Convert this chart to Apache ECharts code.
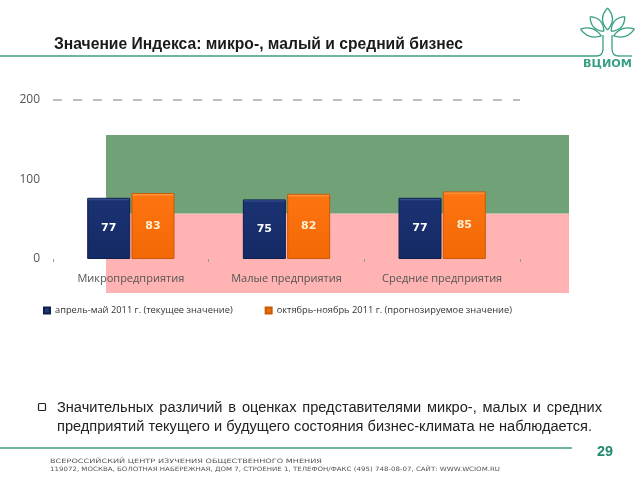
<!DOCTYPE html>
<html><head><meta charset="utf-8">
<script src="https://cdn.jsdelivr.net/npm/echarts@6/dist/echarts.min.js"></script>
<style>html,body{margin:0;padding:0;background:#fff}#c{width:640px;height:480px}</style>
</head><body><div id="c"></div>
<script>
// ---- data ----
const categories = ['Микропредприятия', 'Малые предприятия', 'Средние предприятия'];
const seriesNames = ['апрель-май 2011 г. (текущее значение)', 'октябрь-ноябрь 2011 г. (прогнозируемое значение)'];
const currentValues = [77, 75, 77];
const forecastValues = [83, 82, 85];
const yMin = 0, yMax = 200, yStep = 100;
const lowerBand = [-43, 57];
const upperBand = [57, 156];
const referenceLevel = 200;
const titleText = 'Значение Индекса: микро-, малый и средний бизнес';
const noteLine1 = 'Значительных различий в оценках представителями микро-, малых и средних';
const noteLine2 = 'предприятий текущего и будущего состояния бизнес-климата не наблюдается.';
const footerLine1 = 'ВСЕРОССИЙСКИЙ ЦЕНТР ИЗУЧЕНИЯ ОБЩЕСТВЕННОГО МНЕНИЯ';
const footerLine2 = '119072, МОСКВА, БОЛОТНАЯ НАБЕРЕЖНАЯ, ДОМ 7, СТРОЕНИЕ 1, ТЕЛЕФОН/ФАКС (495) 748-08-07, САЙТ: WWW.WCIOM.RU';
const pageNumber = '29';
const logoText = 'ВЦИОМ';

// ---- helpers ----
const ctx = document.createElement('canvas').getContext('2d');
function measure(t, font) { ctx.font = font; return ctx.measureText(t).width; }
const TEAL = '#3a9e86';

function fitText(text, x, y, width, size, family, weight, color, align) {
  const font = (weight || 'normal') + ' ' + size + 'px ' + family;
  const w = measure(text, font);
  const s = width / w;
  return {
    type: 'text', x: x, y: y, scaleX: s, scaleY: 1, z: 20,
    style: { text: text, x: 0, y: 0, fontSize: size, fontFamily: family, fontWeight: weight || 'normal',
      fill: color, verticalAlign: 'middle', textAlign: align || 'left' }
  };
}

const noteFamily = '"Liberation Sans", Arial, sans-serif';
const noteSize = 14;
const noteFont = 'normal ' + noteSize + 'px ' + noteFamily;
const noteScale = 535 / measure(noteLine2, noteFont);
const words = noteLine1.split(' ');
const wordW = words.map(w => measure(w, noteFont) * noteScale);
const totalW = wordW.reduce((a, b) => a + b, 0);
const gap = (545 - totalW) / (words.length - 1);
const noteWords = [];
let cx = 57;
words.forEach((w, i) => {
  noteWords.push({ type: 'text', x: cx, y: 408, scaleX: noteScale, z: 20,
    style: { text: w, x: 0, y: 0, fontSize: noteSize, fontFamily: noteFamily, fill: '#222', verticalAlign: 'middle' } });
  cx += wordW[i] + gap;
});

const stroke = { fill: 'none', stroke: TEAL, lineWidth: 1.3 };
function leaf(x, y, h, w, rot) {
  return { type: 'group', x: x, y: y, rotation: rot, z: 20, children: [
    { type: 'bezierCurve', z: 20, shape: { x1: 0, y1: -h, x2: 0, y2: h, cpx1: w, cpy1: 0 }, style: stroke },
    { type: 'bezierCurve', z: 20, shape: { x1: 0, y1: -h, x2: 0, y2: h, cpx1: -w, cpy1: 0 }, style: stroke }
  ] };
}

const chart = echarts.init(document.getElementById('c'), null, { renderer: 'canvas' });
chart.setOption({
  animation: false,
  backgroundColor: '#fff',
  grid: [
    { left: 53, right: 120, top: 100, bottom: 221 },
    { left: 106, right: 71, top: 135, bottom: 187 }
  ],
  xAxis: [
    { type: 'category', data: categories, gridIndex: 0, z: 10,
      axisLine: { show: true, lineStyle: { opacity: 0 } },
      axisTick: { show: true, length: 3, lineStyle: { color: '#999' } },
      axisLabel: { color: '#555', fontSize: 11, margin: 14, interval: 0, fontFamily: '"Open Sans", sans-serif' } },
    { type: 'value', gridIndex: 1, min: 0, max: 1, show: false }
  ],
  yAxis: [
    { type: 'value', gridIndex: 0, min: yMin, max: yMax, interval: yStep, z: 10,
      axisLine: { show: false }, axisTick: { show: false }, splitLine: { show: false },
      axisLabel: { color: '#555', fontSize: 12, margin: 13, fontFamily: '"Open Sans", sans-serif' } },
    { type: 'value', gridIndex: 1, min: lowerBand[0], max: upperBand[1], show: false }
  ],
  legend: {
    left: 38, top: 301, icon: 'rect', itemWidth: 6, itemHeight: 6, itemGap: 32, itemTextGap: 2,
    textStyle: { fontSize: 9.3, color: '#333', fontFamily: '"Open Sans", sans-serif' },
    data: [
      { name: seriesNames[0], itemStyle: { color: '#1f3a7a' } },
      { name: seriesNames[1], itemStyle: { color: '#e8700f' } }
    ]
  },
  series: [
    { type: 'line', xAxisIndex: 1, yAxisIndex: 1, z: 0, silent: true, showSymbol: false,
      data: [[0, lowerBand[0]], [1, lowerBand[0]]], lineStyle: { opacity: 0 },
      markArea: { silent: true, data: [
        [{ xAxis: 0, yAxis: lowerBand[0], itemStyle: { color: '#ffb3b3' } }, { xAxis: 1, yAxis: lowerBand[1] }],
        [{ xAxis: 0, yAxis: upperBand[0], itemStyle: { color: '#71a177' } }, { xAxis: 1, yAxis: upperBand[1] }]
      ] } },
    { name: seriesNames[0], type: 'bar', xAxisIndex: 0, yAxisIndex: 0, z: 3,
      data: currentValues, barWidth: 43, barGap: '3%',
      itemStyle: { borderColor: '#0e1f4d', borderWidth: 1,
        color: new echarts.graphic.LinearGradient(0, 0, 0, 1, [
          { offset: 0, color: '#4f6db0' }, { offset: 0.05, color: '#1b3272' }, { offset: 1, color: '#142a65' }]) },
      label: { show: true, position: 'inside', color: '#fff', fontWeight: 'bold', fontSize: 11,
        fontFamily: '"DejaVu Sans", sans-serif' },
      markLine: { silent: true, symbol: 'none', label: { show: false },
        lineStyle: { color: '#a8a8a8', width: 1.5, type: [9, 11] },
        data: [{ yAxis: referenceLevel }] } },
    { name: seriesNames[1], type: 'bar', xAxisIndex: 0, yAxisIndex: 0, z: 3,
      data: forecastValues, barWidth: 43,
      itemStyle: { borderColor: '#c85a08', borderWidth: 1,
        color: new echarts.graphic.LinearGradient(0, 0, 0, 1, [
          { offset: 0, color: '#ffb060' }, { offset: 0.05, color: '#fd7410' }, { offset: 1, color: '#f26805' }]) },
      label: { show: true, position: 'inside', color: '#fff0d2', fontWeight: 'bold', fontSize: 11,
        fontFamily: '"DejaVu Sans", sans-serif' } }
  ],
  graphic: [
    fitText(titleText, 54, 45, 409, 16, '"Liberation Sans", Arial, sans-serif', 'bold', '#1a1a1a'),
    { type: 'line', z: 20, shape: { x1: 0, y1: 56, x2: 596, y2: 56 }, style: { stroke: TEAL, lineWidth: 1.5 } },
    { type: 'line', z: 20, shape: { x1: 603, y1: 35, x2: 603, y2: 49 }, style: { stroke: TEAL, lineWidth: 1.3 } },
    { type: 'bezierCurve', z: 20, shape: { x1: 603, y1: 49, x2: 596, y2: 56, cpx1: 603, cpy1: 56 }, style: { fill: 'none', stroke: TEAL, lineWidth: 1.3 } },
    { type: 'line', z: 20, shape: { x1: 612, y1: 35, x2: 612, y2: 49 }, style: { stroke: TEAL, lineWidth: 1.3 } },
    { type: 'bezierCurve', z: 20, shape: { x1: 612, y1: 49, x2: 619, y2: 56, cpx1: 612, cpy1: 56 }, style: { fill: 'none', stroke: TEAL, lineWidth: 1.3 } },
    { type: 'line', z: 20, shape: { x1: 619, y1: 56, x2: 632, y2: 56 }, style: { stroke: TEAL, lineWidth: 1.3 } },
    leaf(607.5, 19, 11, 10, 0),
    leaf(597, 24, 10, 9, 0.75),
    leaf(618, 24, 10, 9, -0.75),
    leaf(591, 32.5, 11, 8, 1.25),
    leaf(624, 32.5, 11, 8, -1.25),
    fitText(logoText, 583, 64, 49, 10, '"DejaVu Sans", sans-serif', 'bold', TEAL),
    { type: 'rect', z: 20, shape: { x: 38.5, y: 403.5, width: 7, height: 7, r: 1 },
      style: { fill: 'none', stroke: '#222', lineWidth: 1.2 } },
    ...noteWords,
    fitText(noteLine2, 57, 427, 535, noteSize, noteFamily, 'normal', '#222'),
    { type: 'line', z: 20, shape: { x1: 0, y1: 448, x2: 572, y2: 448 }, style: { stroke: TEAL, lineWidth: 1.5 } },
    fitText(pageNumber, 597, 452, 16, 15, '"Liberation Sans", Arial, sans-serif', 'bold', '#1f8a6e'),
    fitText(footerLine1, 50, 461, 272, 6, '"DejaVu Sans", sans-serif', 'normal', '#555'),
    fitText(footerLine2, 50, 469, 450, 6, '"DejaVu Sans", sans-serif', 'normal', '#555')
  ]
});
</script></body></html>
